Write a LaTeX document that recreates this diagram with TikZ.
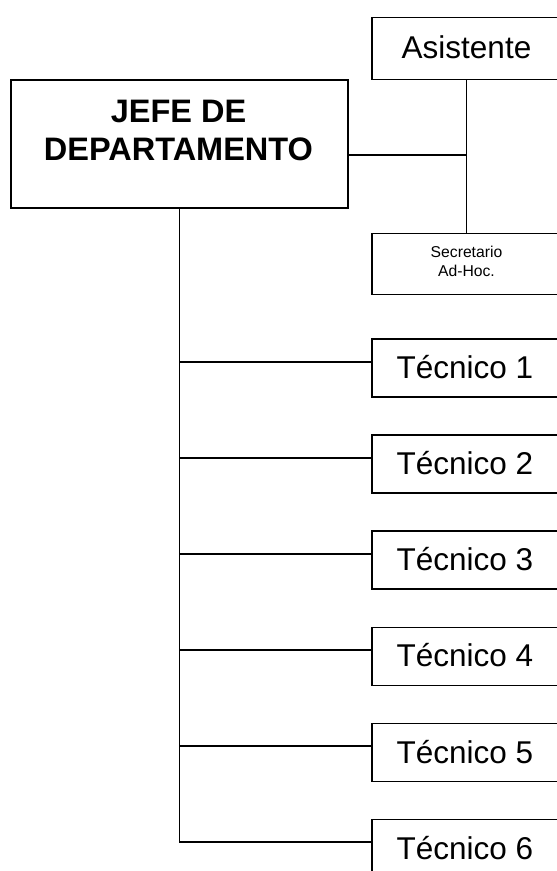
\documentclass[tikz,border=0pt]{standalone}
\usepackage{fontspec}
\setmainfont{Liberation Sans}
\begin{document}
\begin{tikzpicture}[x=1bp,y=-1bp,
  box/.style={draw=black,line width=1.6bp,rectangle,inner sep=0pt,anchor=north west},
  conn/.style={draw=black,line width=1.6bp},
  big/.style={font=\fontsize{31.5bp}{38bp}\selectfont},
  bigbold/.style={font=\fontsize{32.5bp}{38bp}\selectfont\bfseries,align=center},
  small/.style={font=\fontsize{15.7bp}{19bp}\selectfont,align=center}]
\useasboundingbox (0,0) rectangle (557,871);
\clip (0,0) rectangle (557,871);
\fill[white] (0,0) rectangle (557,871);
% boxes
\node[box,minimum width=191bp,minimum height=62bp] (asis) at (371,16.5) {};
\node[big] at (466.5,47.5) {Asistente};
\node[box,minimum width=337bp,minimum height=128bp] (jefe) at (10,79) {};
\node[bigbold] at (178.5,130) {JEFE DE\\DEPARTAMENTO};
\node[box,minimum width=191bp,minimum height=61bp] (secr) at (371,232.5) {};
\node[small] at (466.5,261.5) {Secretario\\Ad-Hoc.};
\foreach \i in {1,...,6}{
  \pgfmathsetmacro{\t}{338.3+96.08*(\i-1)}
  \node[box,minimum width=191bp,minimum height=58bp] (tec\i) at (371,\t) {};
  \node[big] at (465,\t+29) {Técnico \i};
  \coordinate (tc\i) at (371,\t+23.5);
}
% connectors
\draw[conn] (asis.south -| 466.5,0) -- (secr.north -| 466.5,0);
\draw[conn] (jefe.east |- 0,155) -- (466.5,155);
\draw[conn] (jefe.south) -- (tc6 -| jefe.south);
\foreach \i in {1,...,6}{
  \draw[conn] (tc\i -| jefe.south) -- (tc\i);
}
\end{tikzpicture}
\end{document}
